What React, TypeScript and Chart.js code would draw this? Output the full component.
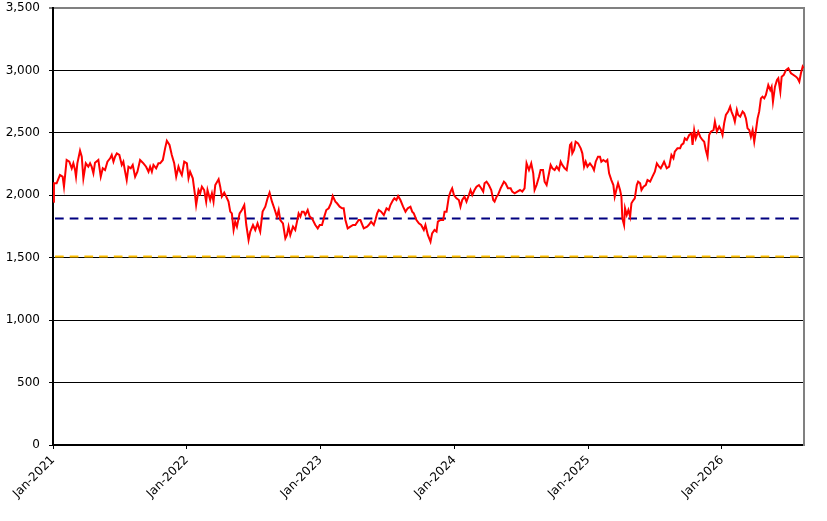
import { useEffect, useRef } from 'react';
import { Chart, registerables, type ChartConfiguration } from 'chart.js';

Chart.register(...registerables);

// decimal year of each reading
const dates = [
  2021.002, 2021.007, 2021.027, 2021.052, 2021.072, 2021.082, 2021.102, 2021.122, 2021.140, 2021.152,
  2021.165, 2021.172, 2021.182, 2021.202, 2021.215, 2021.227, 2021.245, 2021.264, 2021.277, 2021.289,
  2021.302, 2021.314, 2021.339, 2021.357, 2021.372, 2021.389, 2021.407, 2021.427, 2021.439, 2021.452,
  2021.464, 2021.477, 2021.496, 2021.514, 2021.526, 2021.539, 2021.551, 2021.564, 2021.581, 2021.596,
  2021.614, 2021.631, 2021.651, 2021.664, 2021.676, 2021.696, 2021.714, 2021.726, 2021.739, 2021.751,
  2021.771, 2021.788, 2021.801, 2021.821, 2021.838, 2021.851, 2021.871, 2021.888, 2021.906, 2021.921,
  2021.938, 2021.951, 2021.963, 2021.981, 2022.001, 2022.013, 2022.025, 2022.045, 2022.063, 2022.070,
  2022.088, 2022.100, 2022.113, 2022.130, 2022.145, 2022.155, 2022.175, 2022.188, 2022.200, 2022.213,
  2022.238, 2022.250, 2022.262, 2022.280, 2022.295, 2022.312, 2022.325, 2022.337, 2022.350, 2022.362,
  2022.375, 2022.395, 2022.412, 2022.430, 2022.445, 2022.462, 2022.475, 2022.495, 2022.512, 2022.529,
  2022.549, 2022.567, 2022.587, 2022.604, 2022.619, 2022.637, 2022.654, 2022.674, 2022.687, 2022.699,
  2022.719, 2022.737, 2022.749, 2022.761, 2022.774, 2022.794, 2022.811, 2022.824, 2022.836, 2022.849,
  2022.861, 2022.874, 2022.886, 2022.904, 2022.919, 2022.936, 2022.961, 2022.979, 2022.994, 2023.011,
  2023.028, 2023.043, 2023.061, 2023.078, 2023.091, 2023.111, 2023.123, 2023.143, 2023.161, 2023.173,
  2023.186, 2023.203, 2023.223, 2023.243, 2023.260, 2023.285, 2023.298, 2023.323, 2023.348, 2023.360,
  2023.378, 2023.398, 2023.410, 2023.423, 2023.435, 2023.453, 2023.473, 2023.493, 2023.510, 2023.522,
  2023.542, 2023.552, 2023.567, 2023.580, 2023.597, 2023.617, 2023.635, 2023.652, 2023.672, 2023.685,
  2023.697, 2023.717, 2023.735, 2023.752, 2023.772, 2023.784, 2023.802, 2023.822, 2023.834, 2023.852,
  2023.867, 2023.877, 2023.897, 2023.917, 2023.927, 2023.942, 2023.959, 2023.972, 2023.984, 2023.997,
  2024.016, 2024.034, 2024.046, 2024.059, 2024.076, 2024.091, 2024.109, 2024.121, 2024.134, 2024.151,
  2024.166, 2024.184, 2024.201, 2024.216, 2024.226, 2024.241, 2024.258, 2024.276, 2024.291, 2024.301,
  2024.316, 2024.326, 2024.346, 2024.371, 2024.383, 2024.401, 2024.421, 2024.433, 2024.451, 2024.471,
  2024.491, 2024.508, 2024.525, 2024.540, 2024.558, 2024.575, 2024.590, 2024.600, 2024.615, 2024.633,
  2024.645, 2024.663, 2024.675, 2024.690, 2024.708, 2024.720, 2024.733, 2024.750, 2024.765, 2024.782,
  2024.795, 2024.807, 2024.825, 2024.840, 2024.852, 2024.865, 2024.875, 2024.882, 2024.895, 2024.907,
  2024.925, 2024.945, 2024.957, 2024.970, 2024.982, 2024.995, 2025.014, 2025.032, 2025.044, 2025.057,
  2025.074, 2025.089, 2025.099, 2025.114, 2025.132, 2025.144, 2025.157, 2025.174, 2025.189, 2025.199,
  2025.214, 2025.224, 2025.239, 2025.249, 2025.256, 2025.269, 2025.276, 2025.289, 2025.301, 2025.314,
  2025.324, 2025.339, 2025.349, 2025.364, 2025.374, 2025.389, 2025.399, 2025.414, 2025.431, 2025.444,
  2025.464, 2025.481, 2025.499, 2025.514, 2025.531, 2025.543, 2025.556, 2025.568, 2025.588, 2025.606,
  2025.623, 2025.638, 2025.648, 2025.668, 2025.688, 2025.698, 2025.713, 2025.723, 2025.738, 2025.756,
  2025.773, 2025.781, 2025.793, 2025.805, 2025.823, 2025.838, 2025.855, 2025.868, 2025.880, 2025.893,
  2025.905, 2025.918, 2025.938, 2025.948, 2025.963, 2025.980, 2025.993, 2026.005, 2026.017, 2026.030,
  2026.047, 2026.062, 2026.072, 2026.087, 2026.097, 2026.112, 2026.122, 2026.137, 2026.155, 2026.167,
  2026.180, 2026.192, 2026.205, 2026.217, 2026.230, 2026.242, 2026.255, 2026.267, 2026.279, 2026.292,
  2026.304, 2026.317, 2026.329, 2026.347, 2026.362, 2026.372, 2026.382, 2026.397, 2026.412, 2026.422,
  2026.437, 2026.447, 2026.462, 2026.479, 2026.497, 2026.517, 2026.536, 2026.554, 2026.566, 2026.579,
  2026.591, 2026.604, 2026.611,
];

const values = [
  1949, 2096, 2096, 2162, 2149, 2069, 2283, 2269, 2216, 2256,
  2202, 2149, 2256, 2357, 2309, 2136, 2256, 2229, 2256, 2229,
  2176, 2261, 2283, 2149, 2216, 2202, 2269, 2296, 2323, 2269,
  2309, 2336, 2323, 2243, 2269, 2189, 2122, 2229, 2216, 2243,
  2149, 2189, 2283, 2269, 2256, 2229, 2189, 2229, 2189, 2243,
  2216, 2256, 2256, 2283, 2376, 2437, 2403, 2323, 2256, 2149,
  2229, 2189, 2162, 2269, 2256, 2136, 2189, 2136, 1989, 1922,
  2042, 2016, 2069, 2042, 1949, 2042, 1962, 2016, 1949, 2082,
  2128, 2069, 1989, 2021, 1989, 1949, 1869, 1855, 1722, 1789,
  1749, 1855, 1882, 1922, 1762, 1642, 1709, 1762, 1722, 1775,
  1709, 1869, 1909, 1976, 2021, 1949, 1896, 1829, 1882, 1802,
  1775, 1655, 1682, 1749, 1682, 1749, 1722, 1789, 1855, 1829,
  1869, 1869, 1842, 1882, 1829, 1815, 1762, 1735, 1762, 1762,
  1829, 1882, 1896, 1936, 1994, 1949, 1936, 1909, 1896, 1896,
  1802, 1735, 1749, 1762, 1762, 1802, 1802, 1735, 1749, 1762,
  1789, 1762, 1802, 1855, 1882, 1869, 1842, 1896, 1882, 1922,
  1962, 1976, 1962, 1994, 1962, 1909, 1869, 1896, 1909, 1869,
  1855, 1802, 1775, 1762, 1722, 1762, 1682, 1628, 1695, 1722,
  1709, 1789, 1802, 1802, 1869, 1869, 1989, 2029, 2056, 2002,
  1976, 1962, 1909, 1962, 1989, 1949, 2002, 2042, 2002, 2042,
  2069, 2082, 2056, 2029, 2096, 2109, 2082, 2042, 1962, 1949,
  1989, 2002, 2056, 2109, 2096, 2056, 2056, 2029, 2016, 2029,
  2042, 2029, 2056, 2256, 2202, 2256, 2176, 2042, 2082, 2149,
  2202, 2202, 2109, 2082, 2176, 2243, 2216, 2202, 2229, 2202,
  2269, 2243, 2216, 2202, 2283, 2403, 2416, 2336, 2363, 2429,
  2416, 2376, 2336, 2229, 2269, 2229, 2256, 2229, 2202, 2269,
  2309, 2309, 2269, 2283, 2269, 2283, 2176, 2122, 2082, 1989,
  2056, 2096, 2042, 1989, 1815, 1762, 1896, 1842, 1882, 1829,
  1936, 1962, 1976, 2082, 2109, 2096, 2042, 2069, 2082, 2122,
  2109, 2149, 2189, 2256, 2229, 2216, 2243, 2269, 2216, 2229,
  2323, 2296, 2349, 2376, 2376, 2403, 2416, 2456, 2443, 2483,
  2496, 2403, 2523, 2456, 2510, 2469, 2443, 2429, 2363, 2309,
  2483, 2510, 2523, 2590, 2510, 2550, 2523, 2483, 2576, 2643,
  2670, 2710, 2670, 2630, 2590, 2683, 2643, 2630, 2670, 2656,
  2616, 2536, 2523, 2469, 2523, 2429, 2523, 2616, 2670, 2776,
  2790, 2776, 2803, 2883, 2843, 2870, 2750, 2870, 2923, 2937,
  2830, 2950, 2963, 3003, 3017, 2977, 2963, 2950, 2937, 2910,
  2977, 3030, 3017,
];

const yearTicks = [2021, 2022, 2023, 2024, 2025, 2026];
const xRange = [2021, 2026.614];
const yRange = [0, 3500];
const blueLevel = [1815, 1815];
const orangeLevel = [1510, 1510];

export default function App() {
  const chartRef = useRef<HTMLCanvasElement>(null);
  const chartInstanceRef = useRef<Chart | null>(null);

  useEffect(() => {
    document.body.style.margin = '0';
    if (chartInstanceRef.current) {
      chartInstanceRef.current.destroy();
    }
    const ctx = chartRef.current;
    if (!ctx) {
      return;
    }

    const font = { family: 'DejaVu Sans', size: 12 };
    const isTop = (c: any) => c.tick && c.tick.value === yRange[1];

    const config: ChartConfiguration<'line'> = {
      type: 'line',
      data: {
        datasets: [
          {
            data: dates.map((d, i) => ({ x: d, y: values[i] })),
            borderColor: '#ff0000',
            borderWidth: 2,
            pointRadius: 0,
            tension: 0,
          },
          {
            data: xRange.map((d, i) => ({ x: d, y: blueLevel[i] })),
            borderColor: '#000080',
            borderWidth: 2,
            borderDash: [8.7, 6],
            borderDashOffset: 12.7,
            pointRadius: 0,
          },
          {
            data: xRange.map((d, i) => ({ x: d, y: orangeLevel[i] })),
            borderColor: '#ffc000',
            borderWidth: 2,
            borderDash: [8.7, 6],
            borderDashOffset: 12.7,
            pointRadius: 0,
          },
        ],
      },
      options: {
        responsive: false,
        animation: false,
        layout: { padding: { top: 8, right: 23, bottom: 0, left: 0 } },
        plugins: { legend: { display: false }, tooltip: { enabled: false } },
        scales: {
          x: {
            type: 'linear',
            min: xRange[0],
            max: xRange[1],
            afterBuildTicks: scale => {
              scale.ticks = yearTicks.map(v => ({ value: v }));
            },
            afterFit: scale => {
              scale.height = 76;
            },
            border: { color: '#000', width: 2 },
            grid: { drawOnChartArea: false, drawTicks: true, tickLength: 4, color: '#000' },
            ticks: {
              color: '#000',
              font,
              padding: 4,
              autoSkip: false,
              maxRotation: 45,
              minRotation: 45,
              callback: v => 'Jan-' + v,
            },
          },
          y: {
            min: yRange[0],
            max: yRange[1],
            afterFit: scale => {
              scale.width = 53;
              scale.paddingTop = 0;
              scale.paddingBottom = 0;
            },
            border: { color: '#000', width: 2 },
            grid: {
              color: c => (isTop(c) ? '#808080' : '#000'),
              lineWidth: c => (isTop(c) ? 2 : 1),
              tickLength: 4,
            },
            ticks: {
              color: '#000',
              font,
              padding: 9,
              stepSize: 500,
              callback: v => Number(v).toLocaleString('en-US'),
            },
          },
          yRight: {
            position: 'right',
            min: yRange[0],
            max: yRange[1],
            afterFit: scale => {
              scale.width = 0;
              scale.paddingTop = 0;
              scale.paddingBottom = 0;
            },
            border: { display: true, color: '#808080', width: 2 },
            grid: { drawOnChartArea: false, drawTicks: false },
            ticks: { display: false },
          },
        },
      },
    };

    chartInstanceRef.current = new Chart(ctx, config);

    return () => {
      chartInstanceRef.current?.destroy();
    };
  }, []);

  return <canvas ref={chartRef} width={827} height={521} />;
}
